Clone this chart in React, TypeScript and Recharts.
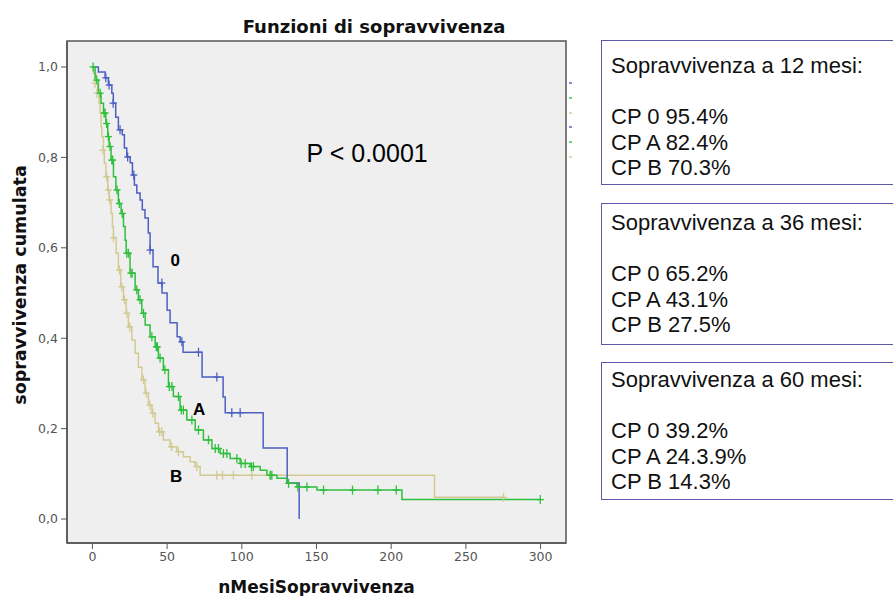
import { ComposedChart, Line, Scatter, XAxis, YAxis, ReferenceArea, ReferenceDot } from 'recharts';

// Kaplan-Meier steps: [mesi, sopravvivenza]
const curve0: [number, number][] = [
    [0, 1.0], [4, 0.989], [8.5, 0.976], [10.7, 0.96], [13, 0.942], [14, 0.92], [15.6, 0.889],
    [17.4, 0.861], [20, 0.85], [21.4, 0.821], [23, 0.801], [25.3, 0.788], [26.8, 0.761],
    [28.1, 0.739], [29.7, 0.721], [31.9, 0.706], [33.4, 0.684], [35.2, 0.666], [37.4, 0.633],
    [38.6, 0.595], [40.6, 0.558], [43.9, 0.522], [46.6, 0.5], [50, 0.462], [52, 0.434],
    [56.7, 0.403], [58.7, 0.392], [60.7, 0.369], [73.4, 0.314], [87.5, 0.27], [88.9, 0.235],
    [114.3, 0.157], [130.4, 0.08], [138.4, 0.0],
];
const curveA: [number, number][] = [
    [0, 1.0], [1.8, 0.971], [4, 0.942], [5.8, 0.92], [7.4, 0.898], [9, 0.875], [10.3, 0.846],
    [11.2, 0.824], [12.5, 0.794], [14.1, 0.757], [15.7, 0.728], [17.4, 0.698], [19.2, 0.676],
    [20.8, 0.647], [21.9, 0.617], [22.6, 0.588], [25.2, 0.544], [28.6, 0.507], [30.8, 0.485],
    [33.1, 0.455], [35.3, 0.429], [38.6, 0.403], [42, 0.381], [44.2, 0.356], [47.5, 0.33],
    [50.9, 0.293], [54.2, 0.271], [58.7, 0.241], [63.2, 0.219], [68.8, 0.197], [74.3, 0.175],
    [80, 0.156], [85.5, 0.145], [92.2, 0.134], [98.9, 0.123], [105.6, 0.116], [112.3, 0.108],
    [116.8, 0.097], [123.5, 0.09], [130.2, 0.079], [136.9, 0.071], [150.3, 0.064],
    [207.2, 0.043], [299.8, 0.043],
];
const curveB: [number, number][] = [
    [0, 1.0], [0.7, 0.986], [2.3, 0.964], [3.6, 0.942], [4.5, 0.92], [5.2, 0.898], [5.8, 0.868],
    [6.3, 0.846], [7.4, 0.816], [8, 0.787], [9, 0.757], [10.3, 0.728], [11.2, 0.706],
    [12.5, 0.676], [13.4, 0.647], [14.1, 0.622], [15.9, 0.588], [17.4, 0.551], [19, 0.514],
    [20.8, 0.485], [22.6, 0.455], [24.1, 0.425], [26.4, 0.396], [28.6, 0.367], [30.8, 0.336],
    [33.1, 0.308], [35.3, 0.278], [37.5, 0.252], [39.8, 0.234], [42, 0.212], [44.2, 0.193],
    [47.5, 0.175], [52, 0.16], [56.5, 0.149], [60.9, 0.138], [65.4, 0.127], [68.8, 0.116],
    [72.1, 0.097], [229, 0.048], [275.2, 0.048],
];

// censored cases (+)
const censor0: [number, number][] = [
    [9, 0.976], [11.2, 0.96], [13.9, 0.92], [18.5, 0.861], [23.6, 0.801], [27.7, 0.761],
    [38.6, 0.595], [46.5, 0.522], [59.9, 0.392], [71, 0.369], [83.3, 0.314], [93.3, 0.235],
    [98.9, 0.235],
];
const censorA: [number, number][] = [
    [0.5, 1.0], [2.9, 0.971], [5.2, 0.942], [7.8, 0.898], [8.5, 0.898], [9.5, 0.875],
    [10.7, 0.846], [11.8, 0.824], [13, 0.794], [13.6, 0.794], [16.5, 0.728], [18, 0.698],
    [20, 0.676], [23, 0.588], [24.1, 0.588], [25.8, 0.544], [26.6, 0.544], [29.7, 0.507],
    [31.9, 0.485], [34.2, 0.455], [39.8, 0.403], [42.8, 0.381], [43.5, 0.381], [45.3, 0.356],
    [48.5, 0.33], [51.5, 0.293], [53.2, 0.293], [57.6, 0.271], [59.5, 0.241], [60.9, 0.241],
    [66.6, 0.219], [71, 0.197], [77.7, 0.175], [82.2, 0.156], [84.4, 0.156], [87.7, 0.145],
    [90, 0.145], [96.7, 0.134], [99.5, 0.123], [102.3, 0.123], [106.5, 0.116], [107.8, 0.116],
    [119, 0.097], [120.1, 0.097], [131.3, 0.079], [137.5, 0.071], [143.6, 0.071],
    [154.7, 0.064], [174.1, 0.064], [191.1, 0.064], [203.4, 0.064], [299.8, 0.043],
];
const censorB: [number, number][] = [
    [1.8, 0.964], [3, 0.942], [7, 0.816], [9.6, 0.757], [10.7, 0.728], [11.6, 0.706],
    [14.1, 0.622], [18.1, 0.551], [19.7, 0.514], [21.5, 0.485], [23, 0.455], [25, 0.425],
    [34.2, 0.308], [36, 0.278], [38.5, 0.252], [40.5, 0.234], [45, 0.193], [46.5, 0.193],
    [53, 0.16], [57.6, 0.149], [69.9, 0.116], [83.3, 0.097], [87.1, 0.097], [94.4, 0.097],
    [106.7, 0.097], [119, 0.097], [275.2, 0.048],
];

const xTicks = [0, 50, 100, 150, 200, 250, 300];
const yTicks = [0, 0.2, 0.4, 0.6, 0.8, 1.0];

const boxes = [
    { title: 'Sopravvivenza a 12 mesi:', rows: ['CP 0 95.4%', 'CP A 82.4%', 'CP B 70.3%'] },
    { title: 'Sopravvivenza a 36 mesi:', rows: ['CP 0 65.2%', 'CP A 43.1%', 'CP B 27.5%'] },
    { title: 'Sopravvivenza a 60 mesi:', rows: ['CP 0 39.2%', 'CP A 24.3.9%', 'CP B 14.3%'] },
];

const BLUE = '#4d60c2';
const GREEN = '#2fbf3c';
const TAN = '#d2ca92';

const toPts = (arr: [number, number][]) => arr.map(([t, s]) => ({ t, s }));

const Plus = (color: string) => (props: any) => {
    const { cx, cy } = props;
    return (
        <g stroke={color} strokeWidth={1.3}>
            <line x1={cx - 3.5} x2={cx + 3.5} y1={cy} y2={cy} />
            <line x1={cx} x2={cx} y1={cy - 4.5} y2={cy + 4.5} />
        </g>
    );
};

const YLabel = (props: any) => {
    const { viewBox } = props;
    const cx = 20;
    const cy = viewBox.y + viewBox.height / 2 - 7;
    return (
        <text x={cx} y={cy} transform={`rotate(-90 ${cx} ${cy})`} textAnchor="middle" dominantBaseline="central"
            fontFamily="DejaVu Sans" fontWeight="bold" fontSize={17.5} fill="#111">
            sopravvivenza cumulata
        </text>
    );
};

const boxTops = [40, 203, 362];
const boxHeights = [145, 142, 138];
const boxPads = [12, 6, 4];
const dotYs = [83, 98, 113, 127, 142, 157];
const dotColors = [BLUE, GREEN, TAN, BLUE, GREEN, TAN];

export default function App() {
    return (
        <div style={{ position: 'absolute', left: 0, top: 0, width: 893, height: 596, overflow: 'hidden', background: '#fff', fontFamily: 'DejaVu Sans' }}>
            <div style={{ position: 'absolute', left: 374, top: 16, transform: 'translateX(-50%)', fontWeight: 'bold', fontSize: 18, whiteSpace: 'nowrap', color: '#111' }}>
                Funzioni di sopravvivenza
            </div>
            <ComposedChart width={893} height={596} margin={{ top: 41, right: 327, bottom: 0, left: 0 }}>
                <ReferenceArea x1={-17} x2={317} y1={-0.053} y2={1.0575} fill="#efefef" fillOpacity={1}
                    stroke="#555" strokeWidth={1.5} ifOverflow="visible" />
                <XAxis type="number" dataKey="t" domain={[-17, 317]} ticks={xTicks} allowDataOverflow height={53}
                    axisLine={{ stroke: '#555', strokeWidth: 1.5 }} tickLine={{ stroke: '#555' }} tickSize={6} tickMargin={3}
                    tick={{ fill: '#555', fontSize: 12.5, fontFamily: 'DejaVu Sans' }}
                    label={{ value: 'nMesiSopravvivenza', position: 'insideBottom', offset: 3, fill: '#111', fontSize: 17, fontWeight: 'bold', fontFamily: 'DejaVu Sans' }} />
                <YAxis type="number" dataKey="s" domain={[-0.053, 1.0575]} ticks={yTicks} allowDataOverflow width={67}
                    axisLine={{ stroke: '#555', strokeWidth: 1.5 }} tickLine={{ stroke: '#555' }} tickSize={6} tickMargin={3}
                    tick={{ fill: '#555', fontSize: 12.5, fontFamily: 'DejaVu Sans' }}
                    tickFormatter={(v: number) => v.toFixed(1).replace('.', ',')}
                    label={<YLabel />} />
                <Line data={toPts(curveB)} dataKey="s" type="stepAfter" stroke={TAN} strokeWidth={1.5} dot={false} activeDot={false} isAnimationActive={false} />
                <Line data={toPts(curve0)} dataKey="s" type="stepAfter" stroke={BLUE} strokeWidth={1.5} dot={false} activeDot={false} isAnimationActive={false} />
                <Line data={toPts(curveA)} dataKey="s" type="stepAfter" stroke={GREEN} strokeWidth={1.5} dot={false} activeDot={false} isAnimationActive={false} />
                <Scatter data={toPts(censorB)} dataKey="s" shape={Plus(TAN)} isAnimationActive={false} />
                <Scatter data={toPts(censor0)} dataKey="s" shape={Plus(BLUE)} isAnimationActive={false} />
                <Scatter data={toPts(censorA)} dataKey="s" shape={Plus(GREEN)} isAnimationActive={false} />
                <ReferenceDot x={55.4} y={0.573} r={0} fill="none" stroke="none"
                    label={{ value: '0', position: 'center', fill: '#000', fontSize: 17, fontWeight: 'bold', fontFamily: 'Liberation Sans' }} />
                <ReferenceDot x={71.5} y={0.243} r={0} fill="none" stroke="none"
                    label={{ value: 'A', position: 'center', fill: '#000', fontSize: 17, fontWeight: 'bold', fontFamily: 'Liberation Sans' }} />
                <ReferenceDot x={56} y={0.095} r={0} fill="none" stroke="none"
                    label={{ value: 'B', position: 'center', fill: '#000', fontSize: 17, fontWeight: 'bold', fontFamily: 'Liberation Sans' }} />
                <ReferenceDot x={183.9} y={0.81} r={0} fill="none" stroke="none"
                    label={{ value: 'P < 0.0001', position: 'center', fill: '#000', fontSize: 25, fontFamily: 'Liberation Sans' }} />
            </ComposedChart>
            {dotYs.map((y, i) => (
                <div key={i} style={{ position: 'absolute', left: 569, top: y - 1, width: 3, height: 2, background: dotColors[i], opacity: 0.7 }} />
            ))}
            {boxes.map((b, i) => (
                <div key={i} style={{
                    position: 'absolute', left: 601, top: boxTops[i], width: 300, height: boxHeights[i],
                    boxSizing: 'border-box', border: '1px solid #5a5aa8', paddingTop: boxPads[i], paddingLeft: 9,
                    fontFamily: 'Liberation Sans', fontSize: 22, lineHeight: '25.5px', color: '#111', whiteSpace: 'nowrap',
                }}>
                    <div>{b.title}</div>
                    <div>&nbsp;</div>
                    {b.rows.map((r) => <div key={r}>{r}</div>)}
                </div>
            ))}
        </div>
    );
}
